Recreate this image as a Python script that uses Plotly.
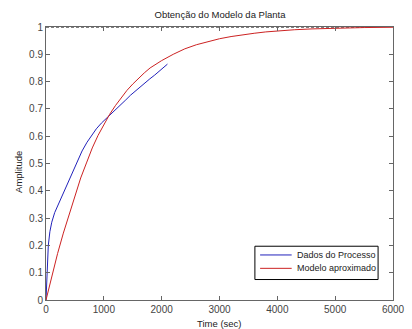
import plotly.graph_objects as go

# Measured process data (Dados do Processo)
proc_t = [0, 10, 20, 40, 67, 100, 150, 234, 318, 390, 457, 540, 624, 710, 791, 870, 958, 1040, 1126,
          1210, 1293, 1380, 1460, 1540, 1627, 1710, 1795, 1880, 1962, 2030, 2100]
proc_y = [0, 0.07, 0.13, 0.20, 0.25, 0.285, 0.32, 0.36, 0.40, 0.435, 0.47, 0.51, 0.546, 0.578,
          0.604, 0.627, 0.648, 0.664, 0.68, 0.697, 0.715, 0.733, 0.75, 0.765, 0.782, 0.797, 0.81,
          0.824, 0.838, 0.85, 0.864]

# Approximated model (Modelo aproximado)
model_t = [0, 100, 200, 300, 400, 500, 600, 700, 800, 900, 1000, 1100, 1200, 1300, 1400, 1500,
           1600, 1700, 1800, 1900, 2000, 2200, 2400, 2600, 2800, 3000, 3200, 3400, 3600, 3800,
           4000, 4300, 4600, 5000, 5500, 6000]
model_y = [0, 0.09, 0.17, 0.245, 0.315, 0.385, 0.447, 0.502, 0.557, 0.603, 0.644, 0.68, 0.712, 0.742,
           0.768, 0.791, 0.812, 0.832, 0.85, 0.864, 0.877, 0.90, 0.92, 0.935, 0.947, 0.957, 0.965,
           0.972, 0.977, 0.982, 0.986, 0.99, 0.993, 0.996, 0.998, 0.999]

# Steady-state reference line
steady_t = [0, 5550]
steady_y = [1, 1]

x_ticks = [0, 1000, 2000, 3000, 4000, 5000, 6000]
y_ticks = [0, 0.1, 0.2, 0.3, 0.4, 0.5, 0.6, 0.7, 0.8, 0.9, 1]
y_labels = ["0", "0.1", "0.2", "0.3", "0.4", "0.5", "0.6", "0.7", "0.8", "0.9", "1"]

series_names = ["Dados do Processo", "Modelo aproximado"]
series_colors = ["#2222bb", "#cc2222"]

FONT = "Arial, Liberation Sans, sans-serif"

fig = go.Figure()
fig.add_trace(go.Scatter(x=steady_t, y=steady_y, mode="lines",
                         line=dict(color="black", width=1, dash="3px,2px"),
                         showlegend=False, hoverinfo="skip", cliponaxis=False))
fig.add_trace(go.Scatter(x=proc_t, y=proc_y, mode="lines", name=series_names[0],
                         line=dict(color=series_colors[0], width=1), showlegend=False))
fig.add_trace(go.Scatter(x=model_t, y=model_y, mode="lines", name=series_names[1],
                         line=dict(color=series_colors[1], width=1), cliponaxis=False,
                         showlegend=False))

axis_common = dict(showgrid=False, zeroline=False, showline=True, linecolor="#666666",
                   linewidth=1, mirror="ticks", ticks="inside", ticklen=4, tickcolor="#666666",
                   tickfont=dict(family=FONT, size=10, color="#444444"))

# Manual legend box (MATLAB style)
shapes = [dict(type="rect", xref="paper", yref="paper", x0=0.602, x1=0.957, y0=0.075, y1=0.197,
               line=dict(color="black", width=1), fillcolor="white", layer="above")]
annotations = []
for i, (nm, col) in enumerate(zip(series_names, series_colors)):
    yy = 0.165 - i * 0.049
    shapes.append(dict(type="line", xref="paper", yref="paper", x0=0.617, x1=0.708, y0=yy, y1=yy,
                       line=dict(color=col, width=1), layer="above"))
    annotations.append(dict(text=nm, xref="paper", yref="paper", x=0.719, y=yy, xanchor="left",
                            yanchor="middle", showarrow=False,
                            font=dict(family=FONT, size=9, color="#222222")))

# Axis titles
annotations.append(dict(text="Time (sec)", xref="paper", yref="paper", x=0.5, y=-0.085,
                        xanchor="center", yanchor="middle", showarrow=False,
                        font=dict(family=FONT, size=9.5, color="#222222")))
annotations.append(dict(text="Amplitude", xref="paper", yref="paper", x=-0.08, y=0.47,
                        xanchor="center", yanchor="middle", showarrow=False, textangle=-90,
                        font=dict(family=FONT, size=9.5, color="#222222")))

fig.update_layout(
    width=412, height=329,
    margin=dict(l=46, r=7, t=27, b=29),
    paper_bgcolor="white", plot_bgcolor="white",
    title=dict(text="Obtenção do Modelo da Planta", xref="container", x=0.534, xanchor="center",
               yref="container", y=1 - 15 / 329, yanchor="middle",
               font=dict(family=FONT, size=9.5, color="#222222")),
    xaxis=dict(range=[0, 6000], tickvals=x_ticks, ticktext=[str(v) for v in x_ticks],
               ticklabeloverflow="allow", **axis_common),
    yaxis=dict(range=[0, 1], tickvals=y_ticks, ticktext=y_labels, **axis_common),
    shapes=shapes,
    annotations=annotations,
    showlegend=False,
)

fig.write_html("out.html", config={"displayModeBar": False},
               post_script="document.body.style.margin='0';")
